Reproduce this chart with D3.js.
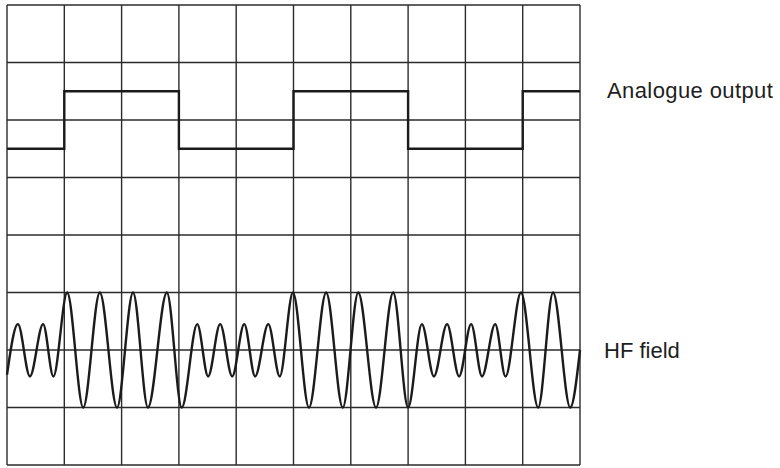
<!DOCTYPE html>
<html>
<head>
<meta charset="utf-8">
<script src="https://cdn.jsdelivr.net/npm/d3@7"></script>
<style>
  html, body { margin: 0; padding: 0; background: #ffffff; }
  svg { display: block; }
  .label { font-family: "Liberation Sans", Arial, sans-serif; font-size: 22px; fill: #1e1e1e; }
</style>
</head>
<body>
<svg id="scope" width="780" height="468"></svg>
<script>
// Screen graticule: 10 horizontal by 8 vertical divisions
const xDivisions = d3.range(0, 11);
const yDivisions = d3.range(0, 9);

// Analogue output: level (in divisions from the bottom) held from each edge time
const squareTimes  = [0, 1, 3, 5, 7, 9, 10];
const squareLevels = [5.5, 6.5, 5.5, 6.5, 5.5, 6.5, 6.5];

// HF field: successive peaks and troughs of the carrier (time in divisions, level in divisions)
const hfTimes = [
  0.00, 0.19, 0.40, 0.63, 0.81,
  1.05, 1.33, 1.62, 1.92, 2.20, 2.46, 2.79, 3.05,
  3.32, 3.51, 3.72, 3.93, 4.14, 4.33, 4.56, 4.76,
  4.99, 5.27, 5.57, 5.86, 6.13, 6.44, 6.74, 7.00,
  7.24, 7.45, 7.68, 7.89, 8.10, 8.29, 8.52, 8.70,
  8.97, 9.27, 9.53, 9.83, 10.00
];
const hfLevels = [
  1.57, 2.45, 1.54, 2.45, 1.54,
  3.00, 1.00, 3.00, 1.00, 3.00, 1.00, 3.00, 1.00,
  2.45, 1.54, 2.45, 1.54, 2.45, 1.54, 2.45, 1.54,
  3.00, 1.00, 3.00, 1.00, 3.00, 1.00, 3.00, 1.00,
  2.45, 1.54, 2.45, 1.54, 2.45, 1.54, 2.45, 1.54,
  3.00, 1.00, 3.00, 1.00, 2.00
];

const traceLabels = [
  { text: "Analogue output", level: 6.52, x: 607, spacing: 0.4 },
  { text: "HF field", level: 2.0, x: 604, spacing: 0 }
];

const svg = d3.select("#scope");
const plotLeft = 7, plotRight = 580, plotTop = 5, plotBottom = 465;

const x = d3.scaleLinear().domain([0, 10]).range([plotLeft, plotRight]);
const y = d3.scaleLinear().domain([0, 8]).range([plotBottom, plotTop]);

// Graticule lines
const grid = svg.append("g").attr("stroke", "#2b2b2b").attr("stroke-width", 1.4).attr("fill", "none");
grid.selectAll("line.v").data(xDivisions).join("line")
  .attr("class", "v")
  .attr("x1", d => x(d)).attr("x2", d => x(d))
  .attr("y1", y(0)).attr("y2", y(8));
grid.selectAll("line.h").data(yDivisions).join("line")
  .attr("class", "h")
  .attr("x1", x(0)).attr("x2", x(10))
  .attr("y1", d => y(d)).attr("y2", d => y(d));

// Analogue output trace
const squareData = squareTimes.map((t, i) => [t, squareLevels[i]]);
svg.append("path")
  .datum(squareData)
  .attr("fill", "none")
  .attr("stroke", "#1b1b1b")
  .attr("stroke-width", 2.4)
  .attr("d", d3.line().x(d => x(d[0])).y(d => y(d[1])).curve(d3.curveStepAfter));

// HF field trace, smooth through its turning points
const hfData = hfTimes.map((t, i) => [t, hfLevels[i]]);
svg.append("path")
  .datum(hfData)
  .attr("fill", "none")
  .attr("stroke", "#1b1b1b")
  .attr("stroke-width", 2.4)
  .attr("stroke-linejoin", "round")
  .attr("d", d3.line().x(d => x(d[0])).y(d => y(d[1])).curve(d3.curveMonotoneX));

// Trace names
svg.selectAll("text.label").data(traceLabels).join("text")
  .attr("class", "label")
  .attr("x", d => d.x)
  .attr("y", d => y(d.level) + 8)
  .attr("letter-spacing", d => d.spacing)
  .text(d => d.text);
</script>
</body>
</html>
